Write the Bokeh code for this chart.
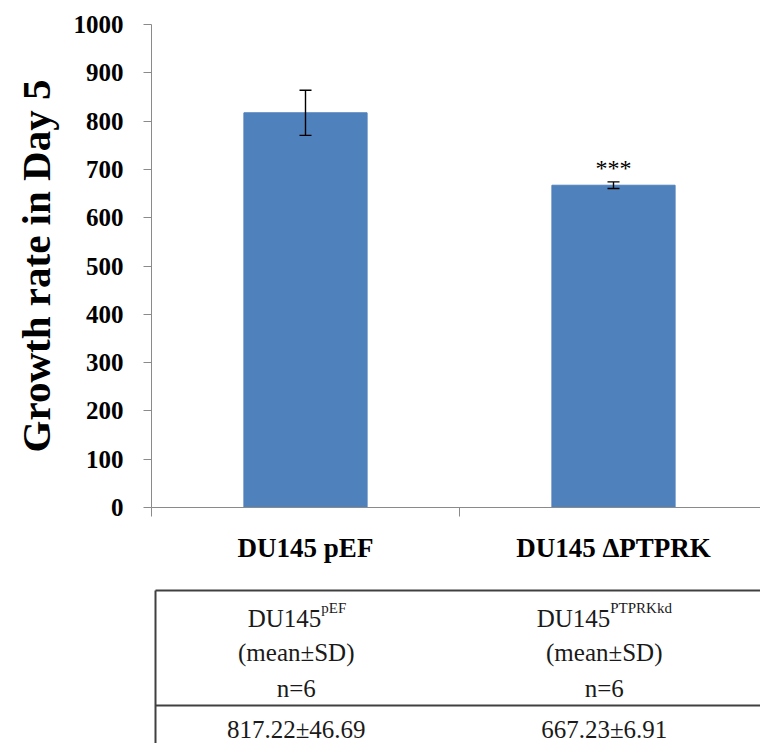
from bokeh.plotting import figure
from bokeh.models import (Range1d, FixedTicker, Whisker, TeeHead, ColumnDataSource)
from bokeh.layouts import column
from bokeh.core.properties import value
from bokeh.embed import file_html
from bokeh.resources import INLINE

# ---- data ----
categories = ["DU145 pEF", "DU145 \u0394PTPRK"]
means = [817.22, 667.23]
sds = [46.69, 6.91]
significance = ["", "***"]
n_values = [6, 6]
table_names = ["DU145", "DU145"]
table_sups = ["pEF", "PTPRKkd"]
y_ticks = [0, 100, 200, 300, 400, 500, 600, 700, 800, 900, 1000]
y_label = "Growth rate in Day 5"

FONT = "'Liberation Serif', 'Times New Roman', serif"
BAR = "#4F81BD"
AXIS = "#8a8a8a"

centers = [i + 0.5 for i in range(len(categories))]
upper = [m + s for m, s in zip(means, sds)]
lower = [m - s for m, s in zip(means, sds)]

src = ColumnDataSource(dict(x=centers, top=means, upper=upper, lower=lower,
                            sig=significance))

W = 760
FRAME_LEFT = 151
x_end = (W - FRAME_LEFT) / 308.0

p = figure(width=W, height=580, output_backend="svg", toolbar_location=None,
           x_range=Range1d(0, x_end), y_range=Range1d(0, 1000),
           min_border_left=FRAME_LEFT, min_border_right=0,
           min_border_top=24, min_border_bottom=73)
p.outline_line_color = None
p.grid.visible = False
p.background_fill_color = "white"
p.border_fill_color = "white"

p.vbar(x="x", top="top", width=0.4, source=src, fill_color=BAR, line_color=BAR)
w = Whisker(base="x", upper="upper", lower="lower", source=src,
            line_color="black", line_width=1.4, level="overlay",
            upper_head=TeeHead(size=12, line_color="black", line_width=1.4),
            lower_head=TeeHead(size=12, line_color="black", line_width=1.4))
p.add_layout(w)
p.text(x="x", y="upper", text="sig", source=src, text_align="center",
       text_baseline="alphabetic", y_offset=-14,
       text_font=value(FONT), text_font_size="24px", text_color="black")

# y axis
ya = p.yaxis[0]
ya.ticker = FixedTicker(ticks=y_ticks)
ya.axis_line_color = AXIS
ya.major_tick_line_color = AXIS
ya.major_tick_out = 8
ya.major_tick_in = 0
ya.minor_tick_line_color = None
ya.major_label_text_font = FONT
ya.major_label_text_font_style = "bold"
ya.major_label_text_font_size = "25px"
ya.major_label_text_color = "black"
ya.major_label_standoff = 20
ya.axis_label = y_label
ya.axis_label_text_font = FONT
ya.axis_label_text_font_style = "bold"
ya.axis_label_text_font_size = "41px"
ya.axis_label_text_color = "black"
ya.axis_label_standoff = 12

# x axis
xa = p.xaxis[0]
xa.ticker = FixedTicker(ticks=centers, minor_ticks=list(range(len(categories) + 1)))
xa.major_label_overrides = {c: lab for c, lab in zip(centers, categories)}
xa.axis_line_color = AXIS
xa.major_tick_line_color = None
xa.major_tick_out = 0
xa.major_tick_in = 0
xa.minor_tick_line_color = AXIS
xa.minor_tick_out = 9
xa.minor_tick_in = 0
xa.major_label_text_font = FONT
xa.major_label_text_font_style = "bold"
xa.major_label_text_font_size = "27px"
xa.major_label_text_color = "black"
xa.major_label_standoff = 16

# ---- table ----
t = figure(width=W, height=163, output_backend="svg", toolbar_location=None,
           x_range=p.x_range, y_range=Range1d(163, 0),
           min_border_left=FRAME_LEFT, min_border_right=0,
           min_border_top=0, min_border_bottom=0,
           x_axis_location=None, y_axis_location=None)
t.outline_line_color = None
t.grid.visible = False

LINE = "#404040"
left_x = 4 / 308.0
t.segment(x0=[left_x, left_x], y0=[10, 125], x1=[x_end, x_end], y1=[10, 125],
          line_color=LINE, line_width=2.2)
t.segment(x0=[left_x], y0=[10], x1=[left_x], y1=[163], line_color=LINE, line_width=2)

col_x = [c - 0.03 for c in centers]
name_offsets = [25, 6]
tsrc = ColumnDataSource(dict(
    x=col_x, name=table_names, sup=table_sups, name_off=name_offsets,
    msd=["(mean\u00b1SD)"] * len(categories),
    n=["n=%d" % v for v in n_values],
    val=["%.2f\u00b1%.2f" % (m, s) for m, s in zip(means, sds)],
))
TXT = "#1a1a1a"
t.text(x="x", y=38, text="name", x_offset="name_off", source=tsrc,
       text_align="right", text_baseline="alphabetic",
       text_font=value(FONT), text_font_size="25px", text_color=TXT)
t.text(x="x", y=27, text="sup", x_offset="name_off", source=tsrc,
       text_align="left", text_baseline="alphabetic",
       text_font=value(FONT), text_font_size="15px", text_color=TXT)
for field, yy in (("msd", 72), ("n", 108), ("val", 149)):
    t.text(x="x", y=yy, text=field, source=tsrc, text_align="center",
           text_baseline="alphabetic", text_font=value(FONT),
           text_font_size="25px", text_color=TXT)

layout = column(p, t, spacing=0)
open("out.html", "w").write(file_html(layout, INLINE))
